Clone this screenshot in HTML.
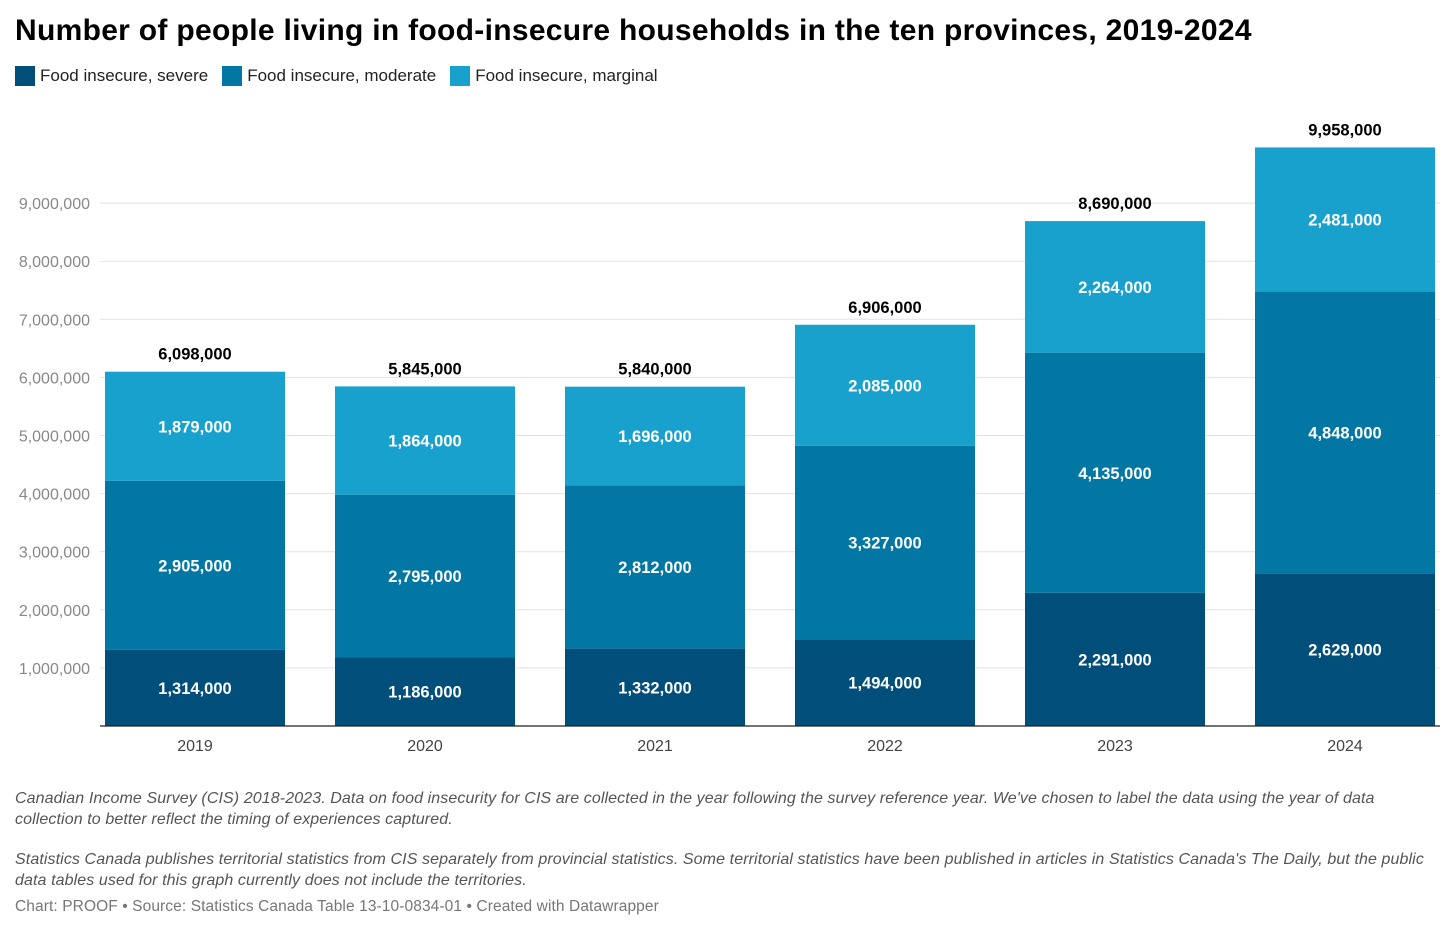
<!DOCTYPE html>
<html><head><meta charset="utf-8">
<style>
body{margin:0;background:#fff;width:1456px;height:933px;overflow:hidden;font-family:"Liberation Sans",sans-serif;}
#title{position:absolute;left:15px;top:14px;font-size:30px;font-weight:bold;color:#000;letter-spacing:0.3px;}
#legend{position:absolute;left:15px;top:66px;font-size:17px;color:#222;display:flex;}
.li{display:flex;align-items:center;margin-right:14px;}
.sw{width:20px;height:20px;margin-right:5px;}
.note{position:absolute;left:15px;font-size:16px;font-style:italic;color:#555;line-height:20.5px;width:1418px;letter-spacing:0.1px;}
#footer{position:absolute;left:15px;top:898px;font-size:15.5px;color:#777;letter-spacing:0.1px;}
svg{position:absolute;left:0;top:0;}
</style></head><body>
<div id="title">Number of people living in food-insecure households in the ten provinces, 2019-2024</div>
<div id="legend">
<div class="li"><div class="sw" style="background:#004f7a"></div>Food insecure, severe</div>
<div class="li"><div class="sw" style="background:#0377a3"></div>Food insecure, moderate</div>
<div class="li"><div class="sw" style="background:#18a1cd"></div>Food insecure, marginal</div>
</div>
<svg id="chart" width="1456" height="933"></svg>
<div class="note" style="top:789px">Canadian Income Survey (CIS) 2018-2023. Data on food insecurity for CIS are collected in the year following the survey reference year. We've chosen to label the data using the year of data collection to better reflect the timing of experiences captured.</div>
<div class="note" style="top:850px">Statistics Canada publishes territorial statistics from CIS separately from provincial statistics. Some territorial statistics have been published in articles in Statistics Canada's The Daily, but the public data tables used for this graph currently does not include the territories.</div>
<div id="footer">Chart: PROOF • Source: Statistics Canada Table 13-10-0834-01 • Created with Datawrapper</div>
<script>
const years=["2019","2020","2021","2022","2023","2024"];
const severe=[1314000,1186000,1332000,1494000,2291000,2629000];
const moderate=[2905000,2795000,2812000,3327000,4135000,4848000];
const marginal=[1879000,1864000,1696000,2085000,2264000,2481000];
const totals=[6098000,5845000,5840000,6906000,8690000,9958000];
const ticks=[1000000,2000000,3000000,4000000,5000000,6000000,7000000,8000000,9000000];
const svg=document.getElementById('chart');
const NS="http://www.w3.org/2000/svg";
const y0=726,pxPer=58.1/1e6;
const y=v=>y0-v*pxPer;
const xc=i=>195+i*230;
const bw=180;
const fmt=v=>v.toLocaleString('en-US');
function mk(t,a,txt){const e=document.createElementNS(NS,t);for(const k in a)e.setAttribute(k,a[k]);if(txt!==undefined)e.textContent=txt;svg.appendChild(e);return e;}
ticks.forEach(t=>{
 const g=mk('line',{x1:100,x2:1440,y1:y(t),y2:y(t),stroke:'#e2e2e2','stroke-width':1});
 
 
 const l=mk('text',{x:90,y:y(t)+6,'text-anchor':'end','font-size':16,fill:'#888','font-family':'Liberation Sans'},fmt(t));
 
 
});
const series=[[severe,'#004f7a','severe'],[moderate,'#0377a3','moderate'],[marginal,'#18a1cd','marginal']];
years.forEach((yr,i)=>{
 let base=0;
 series.forEach(([arr,col,nm])=>{
  const v=arr[i];
  const r=mk('rect',{x:xc(i)-bw/2,y:y(base+v),width:bw,height:v*pxPer,fill:col});
  
  
  const t=mk('text',{x:xc(i),y:y(base+v/2)+6,'text-anchor':'middle','font-size':16.5,'font-weight':'bold',fill:'#fff','font-family':'Liberation Sans'},fmt(v));
  
  
  base+=v;
 });
 const tt=mk('text',{x:xc(i),y:y(totals[i])-12,'text-anchor':'middle','font-size':16.5,'font-weight':'bold',fill:'#000','font-family':'Liberation Sans'},fmt(totals[i]));
 
 
 const xl=mk('text',{x:xc(i),y:751,'text-anchor':'middle','font-size':16,fill:'#444','font-family':'Liberation Sans'},yr);
 
 
});
const ax=mk('line',{x1:100,x2:1440,y1:y0,y2:y0,stroke:'#222','stroke-width':1.3});


</script>
</body></html>
